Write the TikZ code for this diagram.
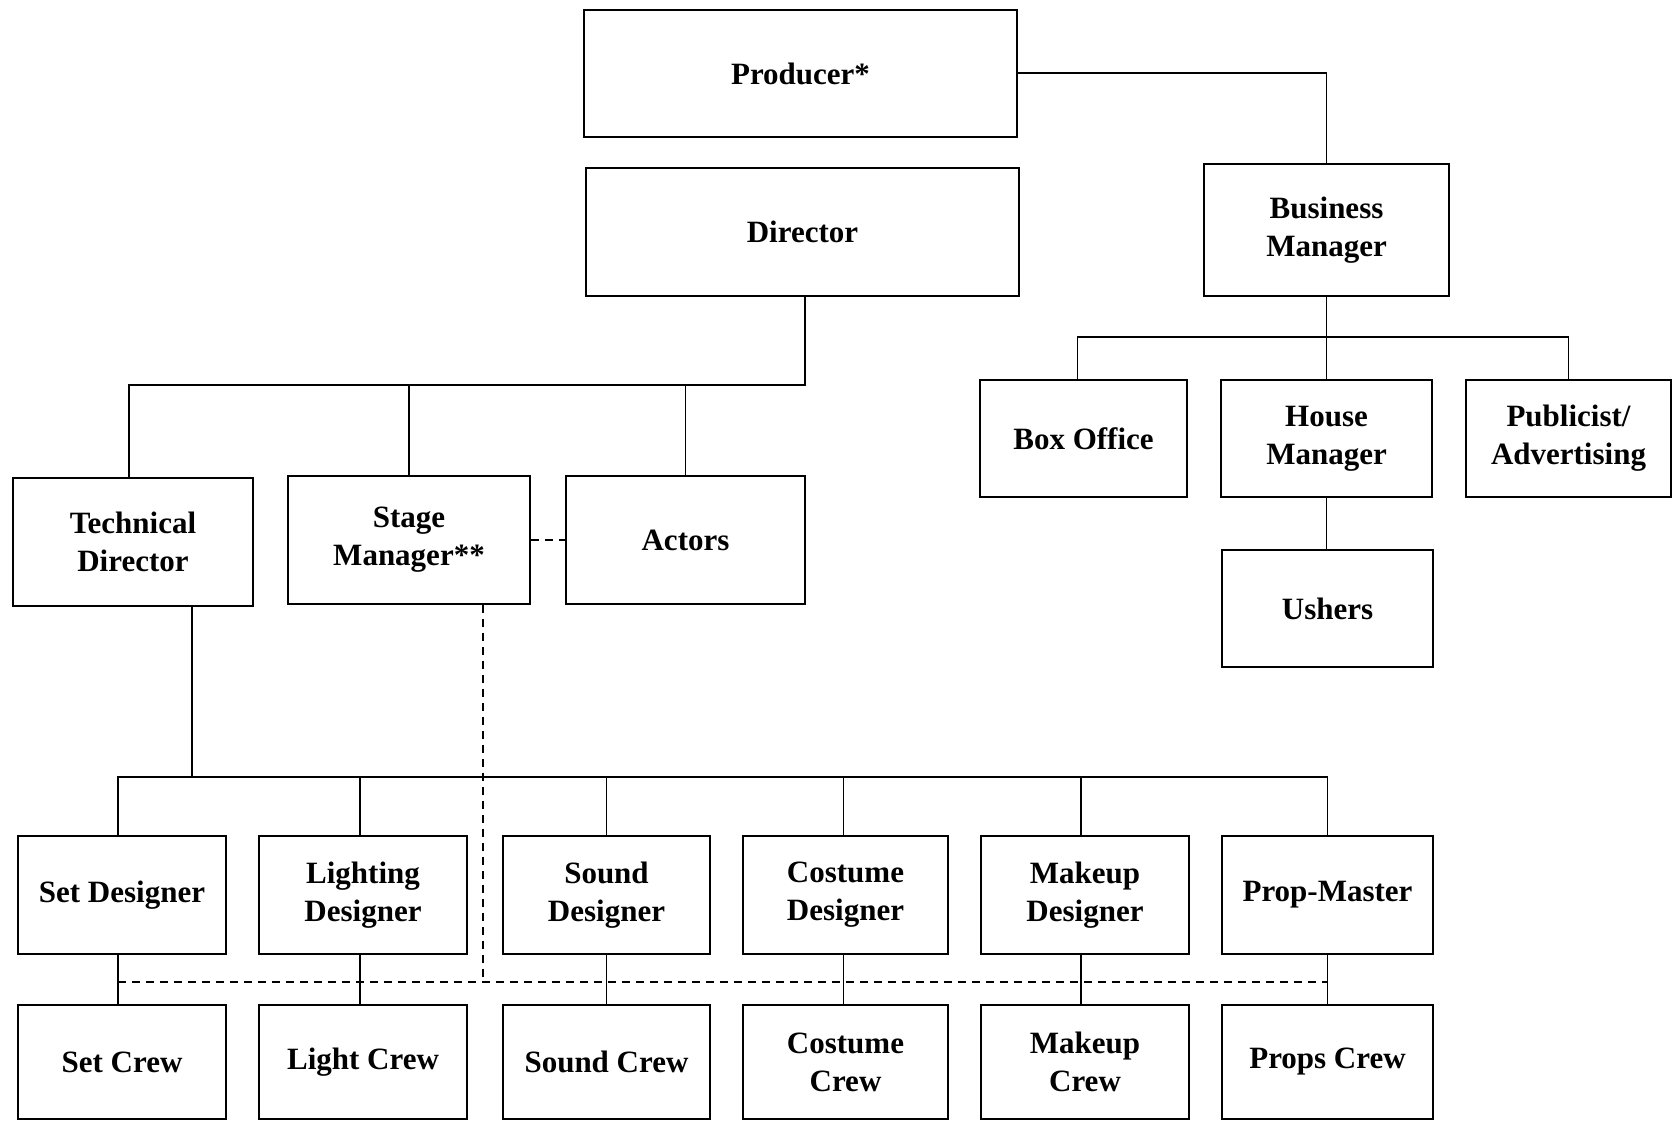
\documentclass[tikz,border=0pt]{standalone}
\usepackage{fontspec}
\setmainfont{Liberation Serif}
\begin{document}
\begin{tikzpicture}[x=0.5pt, y=-0.5pt, line width=0.8pt,
  box/.style = {draw, rectangle, align=center, inner sep=0pt, font=\fontsize{15.5}{19}\selectfont\bfseries},
  rowbox/.style = {box, minimum height=59pt},
  crewbox/.style = {box, minimum height=57pt},
  cuelink/.style = {dashed, dash pattern=on 4pt off 3pt}]
\useasboundingbox (0,0) rectangle (1673,1121);

% top
\node[box, minimum width=216.5pt, minimum height=63.5pt] (prod) at (800.5,73.5) {Producer*};
\node[box, minimum width=216.5pt, minimum height=64pt] (dir) at (802.5,232) {Director};
\node[box, minimum width=122.5pt, minimum height=66pt] (bm) at (1326.5,230) {Business\\Manager};

% front of house
\node[box, minimum width=103.5pt, minimum height=58.5pt] (bo) at (1083.5,438.5) {Box Office};
\node[box, minimum width=105.5pt, minimum height=58.5pt] (hm) at (1326.5,438.5) {House\\Manager};
\node[box, minimum width=102.5pt, minimum height=58.5pt] (pub) at (1568.5,438.5) {Publicist/\\Advertising};
\node[box, minimum width=105.5pt, minimum height=58.5pt] (ush) at (1327.5,608.5) {Ushers};

% under the director
\node[box, minimum width=120pt, minimum height=64pt] (td) at (133,542) {Technical\\Director};
\node[box, minimum width=121pt, minimum height=64pt] (sm) at (409,540) {Stage\\Manager**};
\node[box, minimum width=119.5pt, minimum height=64pt] (act) at (685.5,540) {Actors};

% designers
\node[rowbox, minimum width=104pt] (set) at (122,895) {Set Designer};
\node[rowbox, minimum width=104pt] (light) at (363,895) {Lighting\\Designer};
\node[rowbox, minimum width=103.5pt] (sound) at (606.5,895) {Sound\\Designer};
\node[rowbox, minimum width=102.5pt] (cost) at (845.5,895) {Costume\\Designer};
\node[rowbox, minimum width=104pt] (make) at (1085,895) {Makeup\\Designer};
\node[rowbox, minimum width=105.5pt] (prop) at (1327.5,895) {Prop-Master};

% crews
\node[crewbox, minimum width=104pt] (setc) at (122,1062) {Set Crew};
\node[crewbox, minimum width=104pt] (lightc) at (363,1062) {Light Crew};
\node[crewbox, minimum width=103.5pt] (soundc) at (606.5,1062) {Sound Crew};
\node[crewbox, minimum width=102.5pt] (costc) at (845.5,1062) {Costume\\Crew};
\node[crewbox, minimum width=104pt] (makec) at (1085,1062) {Makeup\\Crew};
\node[crewbox, minimum width=105.5pt] (propc) at (1327.5,1062) {Props Crew};

\coordinate (bbus) at (1326,337);
\coordinate (dbus) at (805,385);
\coordinate (tbus) at (192,777);
\coordinate (sbus) at (483,982);

\draw (prod.east |- 0,73) -| (bm.north);

\draw (bm.south) -- (bm.south |- bbus);
\draw ([xshift=-3pt]bo.north) |- (pub.north |- bbus) -- (pub.north);
\draw (hm.north) -- (hm.north |- bbus);
\draw (hm.south) -- (hm.south |- ush.north);

\draw (dir.south -| dbus) -- (dbus) -| ([xshift=-2pt]td.north);
\draw (sm.north) -- (sm.north |- dbus);
\draw (act.north) -- (act.north |- dbus);

\draw (td.south -| tbus) -- (tbus);
\draw ([xshift=-2pt]set.north) |- (prop.north |- tbus) -- (prop.north);
\foreach \n/\s in {light/-1.5pt,sound/0pt,cost/-1pt,make/-2pt}
  \draw ([xshift=\s]\n.north) -- ([xshift=\s]\n.north |- tbus);
\foreach \a/\b/\s in {set/setc/-2pt,light/lightc/-1.5pt,sound/soundc/0pt,cost/costc/-1pt,make/makec/-2pt,prop/propc/0pt}
  \draw ([xshift=\s]\a.south) -- ([xshift=\s]\a.south |- \b.north);

\draw[cuelink] (sm.east) -- (act.west);
\draw[cuelink] (sm.south -| sbus) -- (sbus);
\draw[cuelink] ([xshift=-2pt]set.south |- sbus) -- (prop.south |- sbus);
\end{tikzpicture}
\end{document}
